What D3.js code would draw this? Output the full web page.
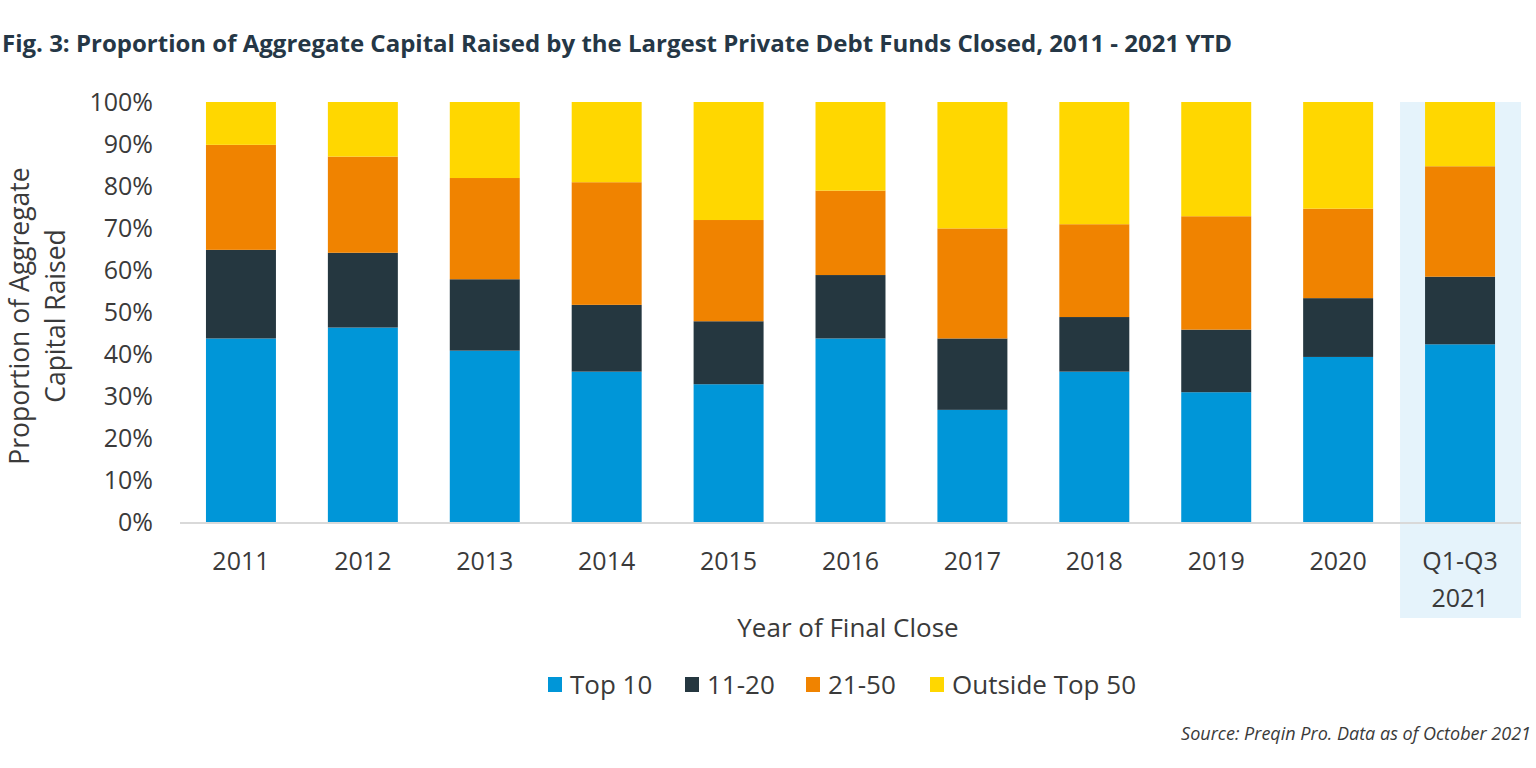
<!DOCTYPE html>
<html>
<head>
<meta charset="utf-8">
<script src="https://cdn.jsdelivr.net/npm/d3@7"></script>
<style>
  body { margin: 0; background: #fff; font-family: "Open Sans", sans-serif; }
  text { font-family: "Open Sans", sans-serif; }
</style>
</head>
<body>
<svg id="chart" width="1536" height="768"></svg>
<script>
// data (percent of aggregate capital)
var years = ["2011", "2012", "2013", "2014", "2015", "2016", "2017", "2018", "2019", "2020", "Q1-Q3 2021"];
var top10 = [43.7, 46.3, 40.8, 35.8, 32.8, 43.7, 26.7, 35.8, 30.9, 39.3, 42.3];
var rank11to20 = [21.1, 17.8, 17.0, 15.9, 15.0, 15.1, 17.0, 13.0, 14.9, 14.0, 16.1];
var rank21to50 = [25.0, 22.9, 24.1, 29.2, 24.1, 20.1, 26.2, 22.1, 27.0, 21.3, 26.3];
var outside50 = [10.2, 13.0, 18.1, 19.1, 28.1, 21.1, 30.1, 29.1, 27.2, 25.4, 15.3];
var seriesNames = ["Top 10", "11-20", "21-50", "Outside Top 50"];
var seriesColors = ["#0096d8", "#253740", "#f08300", "#ffd700"];
var yTicks = [0, 10, 20, 30, 40, 50, 60, 70, 80, 90, 100];

var rows = years.map(function(y, i) {
  return { year: y, "Top 10": top10[i], "11-20": rank11to20[i], "21-50": rank21to50[i], "Outside Top 50": outside50[i] };
});

var svg = d3.select("#chart");
var plotLeft = 180, plotRight = 1521, plotTop = 102, plotBottom = 522;

var x = d3.scaleBand().domain(years).range([plotLeft, plotRight]).paddingInner(0.426).paddingOuter(0.213);
var y = d3.scaleLinear().domain([0, 100]).range([plotBottom, plotTop]);

// title
svg.append("text")
  .attr("x", 2).attr("y", 52)
  .style("font-size", "24px").style("font-weight", "700").style("fill", "#253746")
  .text("Fig. 3: Proportion of Aggregate Capital Raised by the Largest Private Debt Funds Closed, 2011 - 2021 YTD");

// highlight for the partial year
var last = years[years.length - 1];
var hlLeft = x(last) - 25;
svg.append("rect")
  .attr("x", hlLeft)
  .attr("y", plotTop)
  .attr("width", plotRight - hlLeft)
  .attr("height", 618 - plotTop)
  .style("fill", "#e5f3fb");

var stack = d3.stack().keys(seriesNames)(rows);

svg.append("g").selectAll("g")
  .data(stack)
  .enter().append("g")
  .style("fill", function(d, i) { return seriesColors[i]; })
  .selectAll("rect")
  .data(function(d) { return d; })
  .enter().append("rect")
  .attr("x", function(d) { return x(d.data.year); })
  .attr("y", function(d) { return y(Math.min(d[1], 100)); })
  .attr("width", x.bandwidth())
  .attr("height", function(d) { return y(d[0]) - y(Math.min(d[1], 100)); });

// y axis labels
var yAxis = svg.append("g")
  .attr("transform", "translate(" + 153 + ",0)")
  .call(d3.axisLeft(y).tickValues(yTicks).tickSize(0).tickFormat(function(d) { return d + "%"; }));
yAxis.select(".domain").remove();
yAxis.selectAll("text")
  .attr("x", 0).attr("dy", "0.35em")
  .style("font-size", "25px").style("fill", "#3a3a3a").style("font-family", "Open Sans");

// x axis baseline
svg.append("line")
  .attr("x1", plotLeft).attr("x2", plotRight)
  .attr("y1", plotBottom + 1).attr("y2", plotBottom + 1)
  .style("stroke", "#d9d9d9").style("stroke-width", 2);

// x labels
var xLab = svg.append("g").selectAll("text")
  .data(years)
  .enter().append("text")
  .attr("text-anchor", "middle")
  .attr("x", function(d) { return x(d) + x.bandwidth() / 2; })
  .attr("y", 570)
  .style("font-size", "25px").style("fill", "#3a3a3a");
xLab.each(function(d) {
  var parts = d.split(" ");
  var t = d3.select(this);
  parts.forEach(function(p, i) {
    t.append("tspan").attr("x", t.attr("x")).attr("dy", i ? 37 : 0).text(p);
  });
});

// axis titles
svg.append("text")
  .attr("x", 848).attr("y", 637)
  .attr("text-anchor", "middle")
  .style("font-size", "26px").style("fill", "#3a3a3a")
  .text("Year of Final Close");

var yTitle = svg.append("text")
  .attr("transform", "translate(29,316) rotate(-90)")
  .attr("text-anchor", "middle")
  .style("font-size", "26.5px").style("fill", "#3a3a3a");
yTitle.append("tspan").attr("x", 0).attr("dy", 0).text("Proportion of Aggregate");
yTitle.append("tspan").attr("x", 0).attr("dy", 36).text("Capital Raised");

// legend
var legendX = [548, 685, 806, 930];
var legend = svg.append("g").selectAll("g")
  .data(seriesNames)
  .enter().append("g")
  .attr("transform", function(d, i) { return "translate(" + legendX[i] + ",677)"; });
legend.append("rect")
  .attr("width", 14).attr("height", 15)
  .style("fill", function(d, i) { return seriesColors[i]; });
legend.append("text")
  .attr("x", 22).attr("y", 17)
  .style("font-size", "26px").style("fill", "#3a3a3a")
  .text(function(d) { return d; });

// source
svg.append("text")
  .attr("x", 1531).attr("y", 740)
  .attr("text-anchor", "end")
  .style("font-size", "18px").style("font-style", "italic").style("fill", "#3a3a3a")
  .text("Source: Preqin Pro. Data as of October 2021");
</script>
</body>
</html>
